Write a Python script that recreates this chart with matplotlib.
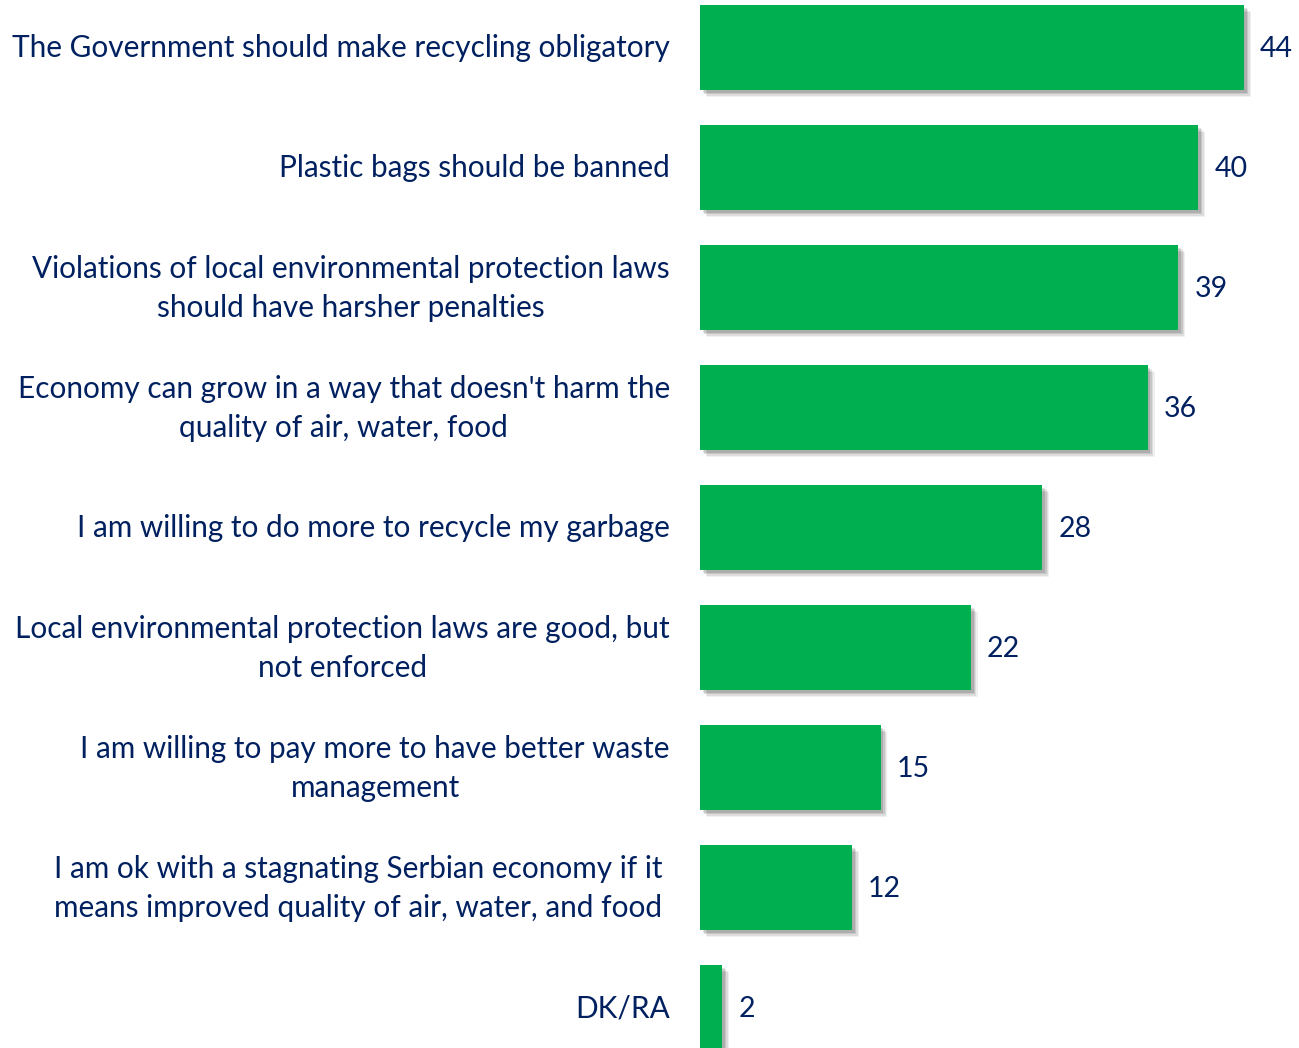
import matplotlib
matplotlib.use("Agg")
import matplotlib.pyplot as plt
import matplotlib.patheffects as pe

categories = [
    "The Government should make recycling obligatory",
    "Plastic bags should be banned",
    "Violations of local environmental protection laws\nshould have harsher penalties",
    "Economy can grow in a way that doesn't harm the\nquality of air, water, food",
    "I am willing to do more to recycle my garbage",
    "Local environmental protection laws are good, but\nnot enforced",
    "I am willing to pay more to have better waste\nmanagement",
    "I am ok with a stagnating Serbian economy if it \nmeans improved quality of air, water, and food ",
    "DK/RA",
]
values = [44.0, 40.3, 38.7, 36.2, 27.7, 21.9, 14.6, 12.3, 1.8]

BAR_COLOR = "#00B050"
TEXT_COLOR = "#002060"
FONT = ["Lato", "DejaVu Sans"]

W, H = 1299, 1048
fig = plt.figure(figsize=(W / 100, H / 100), dpi=100)
ax = fig.add_axes([700 / W, 0, (W - 700) / W, 1])

px_per_unit = 544 / 44
ax.set_xlim(0, (W - 700) / px_per_unit)
ax.set_ylim((H - 47.5) / 120, -47.5 / 120)

pos = list(range(len(values)))
shadow = [pe.SimplePatchShadow(offset=(5, -5), shadow_rgbFace="#000000", alpha=0.06),
          pe.SimplePatchShadow(offset=(4, -4), shadow_rgbFace="#000000", alpha=0.08),
          pe.SimplePatchShadow(offset=(3, -3), shadow_rgbFace="#000000", alpha=0.10),
          pe.SimplePatchShadow(offset=(2, -2), shadow_rgbFace="#000000", alpha=0.12),
          pe.Normal()]
bars = ax.barh(pos, values, height=85 / 120, color=BAR_COLOR, edgecolor="none")
for b in bars:
    b.set_path_effects(shadow)

for p, v in zip(pos, values):
    ax.text(v + 16 / px_per_unit, p + 1.5 / 120, f"{v:.0f}", ha="left", va="center",
            fontsize=20.5, color=TEXT_COLOR, family=FONT)

for p, c in zip(pos, categories):
    fig.text(670 / W, 1 - (48.5 + 120 * p) / H, c, ha="right", va="center",
             multialignment="center", fontsize=21.4, color=TEXT_COLOR,
             family=FONT, linespacing=1.5)

ax.axis("off")
fig.savefig("out.png", dpi=100, facecolor="white")
